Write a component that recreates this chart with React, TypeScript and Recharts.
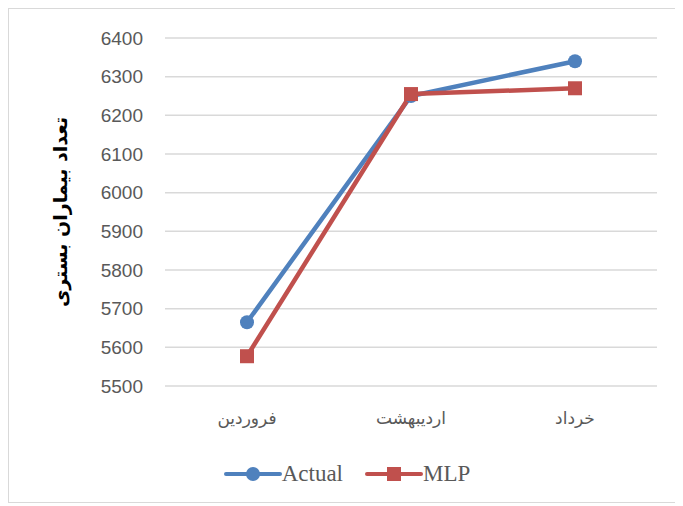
import React from 'react';
import {
  LineChart,
  Line,
  XAxis,
  YAxis,
  CartesianGrid,
  Legend,
} from 'recharts';

const months = ['فروردین', 'اردیبهشت', 'خرداد'];
const actual = [5665, 6250, 6340];
const mlp = [5577, 6255, 6270];
const yTicks = [5500, 5600, 5700, 5800, 5900, 6000, 6100, 6200, 6300, 6400];

const BLUE = '#4F81BD';
const RED = '#C0504D';

const data = months.map((m, i) => ({ month: m, Actual: actual[i], MLP: mlp[i] }));

const SquareDot = (props: any) => {
  const { cx, cy } = props;
  if (cx == null || cy == null) return null;
  return <rect x={cx - 7} y={cy - 7} width={14} height={14} fill={RED} />;
};

const YTitle = (props: any) => {
  const { viewBox } = props;
  const x = viewBox.x + 21;
  const y = viewBox.y + viewBox.height / 2;
  return (
    <text
      x={x}
      y={y}
      transform={`rotate(-90, ${x}, ${y})`}
      textAnchor="middle"
      dominantBaseline="central"
      fill="#000"
      fontWeight="bold"
      fontSize={19}
      fontFamily="'DejaVu Sans', sans-serif"
      direction="rtl"
    >
      تعداد بیماران بستری
    </text>
  );
};

const LegendContent = () => (
  <div style={{ display: 'flex', justifyContent: 'center', alignItems: 'center', fontFamily: "'Liberation Serif', serif", fontSize: 23, color: '#595959', marginLeft: -2 }}>
    <svg width={58} height={20}>
      <line x1={2} y1={10} x2={56} y2={10} stroke={BLUE} strokeWidth={4} strokeLinecap="round" />
      <circle cx={29} cy={10} r={7} fill={BLUE} />
    </svg>
    <span style={{ marginRight: 22 }}>Actual</span>
    <svg width={58} height={20}>
      <line x1={2} y1={10} x2={56} y2={10} stroke={RED} strokeWidth={4} strokeLinecap="round" />
      <rect x={22} y={3} width={14} height={14} fill={RED} />
    </svg>
    <span>MLP</span>
  </div>
);

export default function App() {
  return (
    <div style={{ width: 673, height: 493, border: '1px solid #d9d9d9', background: '#fff' }}>
      <LineChart width={673} height={493} data={data} margin={{ top: 29, right: 25, bottom: 0, left: 30 }}>
        <CartesianGrid vertical={false} stroke="#d9d9d9" strokeWidth={1.5} />
        <XAxis
          dataKey="month"
          axisLine={false}
          tickLine={false}
          tickSize={0}
          tickMargin={26}
          padding={{ left: 82, right: 82 }}
          tick={{ fill: '#595959', fontSize: 17, fontFamily: "'DejaVu Sans', sans-serif" }}
          height={75}
        />
        <YAxis
          domain={[5500, 6400]}
          ticks={yTicks}
          axisLine={false}
          tickLine={false}
          tickSize={0}
          tickMargin={22}
          width={126}
          interval={0}
          tick={{ fill: '#595959', fontSize: 19, fontFamily: "'Liberation Sans', sans-serif" }}
          label={<YTitle />}
        />
        <Legend verticalAlign="bottom" height={41} content={<LegendContent />} />
        <Line
          dataKey="Actual"
          stroke={BLUE}
          strokeWidth={4.5}
          dot={{ r: 7, fill: BLUE, stroke: BLUE, strokeWidth: 0 }}
          isAnimationActive={false}
        />
        <Line
          dataKey="MLP"
          stroke={RED}
          strokeWidth={4.5}
          dot={<SquareDot />}
          isAnimationActive={false}
        />
      </LineChart>
    </div>
  );
}
